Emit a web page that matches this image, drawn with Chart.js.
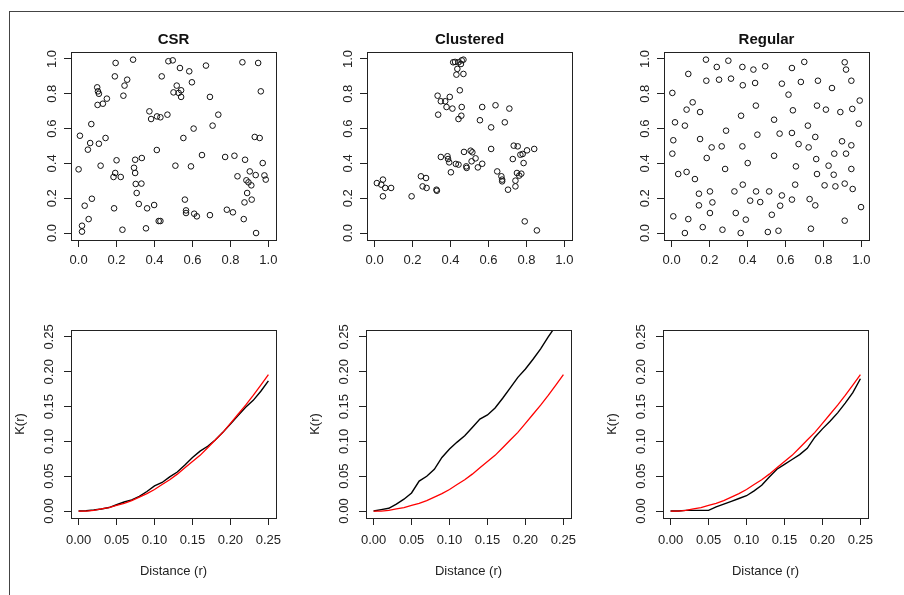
<!DOCTYPE html>
<html>
<head>
<meta charset="utf-8">
<script src="https://cdn.jsdelivr.net/npm/chart.js@4"></script>
<style>
  body { margin: 0; background: #fff; width: 904px; height: 595px; position: relative; overflow: hidden; }
  #outer { position: absolute; left: 9px; top: 11px; width: 900px; height: 590px; border-top: 1px solid #444; border-left: 1px solid #444; }
  canvas { position: absolute; }
</style>
</head>
<body>
<div id="outer"></div>
<canvas id="csr"></canvas>
<canvas id="clus"></canvas>
<canvas id="reg"></canvas>
<canvas id="kcsr"></canvas>
<canvas id="kclus"></canvas>
<canvas id="kreg"></canvas>
<script>
// point patterns (unit square)
const csrX = [0.195,0.287,0.191,0.256,0.242,0.236,0.098,0.102,0.107,0.149,0.128,0.100,0.067,0.007,0.061,0.049,0.107,0.142,0.000,0.116,
  0.200,0.193,0.184,0.222,0.187,0.070,0.032,0.053,0.018,0.018,0.231,0.298,0.333,0.292,0.298,0.301,0.331,0.306,0.317,0.361,
  0.398,0.355,0.422,0.431,0.412,0.373,0.382,0.413,0.431,0.468,0.438,0.473,0.496,0.534,0.517,0.540,0.500,0.527,0.540,0.510,
  0.552,0.583,0.597,0.671,0.692,0.606,0.592,0.650,0.706,0.736,0.560,0.566,0.566,0.609,0.623,0.692,0.772,0.821,0.781,0.813,
  0.870,0.863,0.946,0.960,0.928,0.954,0.877,0.970,0.902,0.933,0.979,0.986,0.837,0.884,0.895,0.910,0.888,0.912,0.874,0.935];
const csrY = [0.977,0.996,0.900,0.881,0.847,0.789,0.837,0.814,0.800,0.772,0.743,0.736,0.626,0.559,0.517,0.479,0.513,0.546,0.366,0.387,
  0.418,0.345,0.322,0.322,0.142,0.197,0.157,0.080,0.042,0.008,0.019,0.421,0.431,0.375,0.345,0.282,0.284,0.230,0.167,0.142,
  0.161,0.027,0.069,0.069,0.477,0.699,0.655,0.670,0.665,0.680,0.900,0.987,0.992,0.948,0.847,0.820,0.808,0.805,0.782,0.387,
  0.546,0.929,0.866,0.962,0.782,0.600,0.383,0.448,0.617,0.680,0.192,0.130,0.115,0.111,0.096,0.103,0.437,0.444,0.134,0.119,
  0.080,0.981,0.977,0.814,0.552,0.546,0.421,0.402,0.354,0.333,0.331,0.307,0.326,0.303,0.291,0.274,0.230,0.192,0.176,0.000];

const clusX = [0.414,0.424,0.442,0.459,0.468,0.455,0.436,0.431,0.468,0.449,0.332,0.349,0.372,0.396,0.379,0.410,0.335,0.459,0.457,0.442,
  0.567,0.637,0.710,0.555,0.614,0.686,0.349,0.384,0.387,0.393,0.402,0.428,0.442,0.471,0.483,0.485,0.506,0.515,0.511,0.532,
  0.544,0.567,0.614,0.646,0.668,0.672,0.672,0.703,0.728,0.733,0.754,0.768,0.780,0.803,0.841,0.785,0.742,0.742,0.750,0.762,
  0.773,0.791,0.855,0.012,0.044,0.035,0.056,0.087,0.044,0.195,0.244,0.271,0.253,0.274,0.326,0.328];
const clusY = [0.981,0.983,0.981,0.992,0.996,0.971,0.943,0.910,0.914,0.820,0.789,0.757,0.757,0.782,0.724,0.715,0.680,0.724,0.674,0.655,
  0.724,0.734,0.715,0.648,0.607,0.636,0.437,0.441,0.425,0.406,0.349,0.397,0.393,0.466,0.383,0.374,0.473,0.464,0.412,0.429,
  0.377,0.398,0.483,0.354,0.326,0.307,0.297,0.249,0.425,0.502,0.498,0.450,0.454,0.475,0.483,0.402,0.301,0.268,0.345,0.330,
  0.341,0.067,0.015,0.287,0.307,0.278,0.259,0.259,0.211,0.211,0.326,0.316,0.268,0.259,0.249,0.243];

const regX = [0.181,0.238,0.299,0.313,0.250,0.183,0.373,0.431,0.493,0.375,0.440,0.444,0.088,0.004,0.079,0.111,0.150,0.018,0.070,0.009,
  0.004,0.150,0.211,0.264,0.287,0.366,0.373,0.452,0.185,0.282,0.401,0.035,0.079,0.123,0.144,0.144,0.202,0.215,0.202,0.164,
  0.070,0.009,0.088,0.268,0.331,0.375,0.338,0.391,0.364,0.414,0.445,0.467,0.514,0.528,0.507,0.563,0.540,0.540,0.569,0.581,
  0.616,0.634,0.639,0.634,0.669,0.655,0.651,0.581,0.572,0.634,0.681,0.699,0.718,0.722,0.757,0.766,0.771,0.762,0.766,0.727,
  0.757,0.734,0.813,0.845,0.912,0.919,0.947,0.889,0.952,0.991,0.986,0.898,0.857,0.919,0.947,0.827,0.854,0.947,0.806,0.863,
  0.912,0.954,0.998,0.912];
const regY = [0.996,0.954,0.990,0.887,0.881,0.875,0.954,0.939,0.958,0.849,0.862,0.732,0.914,0.805,0.709,0.751,0.695,0.636,0.617,0.533,
  0.456,0.540,0.492,0.498,0.588,0.674,0.498,0.565,0.431,0.368,0.402,0.339,0.351,0.310,0.226,0.159,0.239,0.176,0.115,0.034,
  0.000,0.096,0.080,0.019,0.239,0.278,0.115,0.077,0.000,0.186,0.239,0.178,0.239,0.105,0.006,0.013,0.651,0.444,0.571,0.858,
  0.795,0.948,0.705,0.575,0.511,0.383,0.278,0.216,0.157,0.192,0.868,0.983,0.617,0.492,0.552,0.732,0.875,0.425,0.339,0.195,
  0.159,0.025,0.709,0.833,0.981,0.939,0.875,0.695,0.713,0.761,0.628,0.527,0.456,0.456,0.504,0.387,0.335,0.368,0.274,0.268,
  0.284,0.253,0.149,0.071];

// Ripley's K: distance r, theoretical (red) and observed (black)
const kR = [0,0.01,0.02,0.03,0.04,0.05,0.06,0.07,0.08,0.09,0.10,0.11,0.12,0.13,0.14,0.15,0.16,0.17,0.18,0.19,0.20,0.21,0.22,0.23,0.24,0.25];
const kTheo = [0,0.000,0.001,0.003,0.005,0.008,0.011,0.015,0.020,0.025,0.031,0.038,0.045,0.053,0.062,0.071,0.080,0.091,0.102,0.113,0.126,0.139,0.152,0.166,0.181,0.196];
const kCsr = [0,0.0005,0.0015,0.003,0.005,0.009,0.013,0.016,0.021,0.028,0.036,0.041,0.049,0.056,0.066,0.077,0.086,0.093,0.102,0.113,0.125,0.137,0.149,0.159,0.172,0.187];
const kClus = [0,0.002,0.004,0.010,0.017,0.026,0.043,0.050,0.060,0.077,0.089,0.099,0.108,0.120,0.132,0.138,0.148,0.162,0.177,0.192,0.204,0.218,0.233,0.250,0.266,0.280];
const kReg = [0,0,0.001,0.001,0.001,0.001,0.006,0.010,0.014,0.018,0.022,0.029,0.037,0.049,0.060,0.067,0.074,0.081,0.090,0.106,0.118,0.129,0.141,0.155,0.170,0.190];

const unitTicks = [0, 0.2, 0.4, 0.6, 0.8, 1.0];
const kTicks = [0, 0.05, 0.10, 0.15, 0.20, 0.25];

Chart.defaults.font.family = '"Liberation Sans", Arial, sans-serif';
Chart.defaults.color = '#222';

// R-style box round the plot region
const boxFrame = {
  id: 'boxFrame',
  afterDraw(chart) {
    const a = chart.chartArea, ctx = chart.ctx;
    ctx.save();
    ctx.strokeStyle = '#222';
    ctx.lineWidth = 1;
    ctx.strokeRect(Math.round(a.left) + 0.5, Math.round(a.top) + 0.5, Math.round(a.right - a.left), Math.round(a.bottom - a.top));
    ctx.restore();
  }
};

function place(id, left, top, w, h) {
  const c = document.getElementById(id);
  c.width = w; c.height = h;
  c.style.left = left + 'px';
  c.style.top = top + 'px';
  return c;
}

function axis(min, max, ticks, digits, size, vertical, pad, title) {
  const ax = {
    type: 'linear', min, max,
    afterBuildTicks: s => { s.ticks = ticks.map(v => ({ value: v })); },
    afterFit: s => { if (vertical) s.width = size; else s.height = size; },
    grid: { drawOnChartArea: false, drawTicks: true, tickLength: 7, color: '#222', lineWidth: 1 },
    border: { display: false },
    ticks: { color: '#222', font: { size: 13 }, padding: pad, callback: v => v.toFixed(digits) }
  };
  if (vertical) Object.assign(ax.ticks, { minRotation: 90, maxRotation: 90, crossAlign: 'center' });
  if (title) ax.title = { display: true, text: title, color: '#222', font: { size: 13 }, padding: { top: 0, bottom: 1 } };
  return ax;
}

function scatterPanel(id, left, title, xs, ys) {
  const canvas = place(id, left - 40, 25, 265, 255);
  new Chart(canvas, {
    type: 'scatter',
    data: { datasets: [{
      data: xs.map((x, i) => ({ x, y: ys[i] })),
      pointRadius: 2.8, borderColor: '#111', backgroundColor: 'rgba(0,0,0,0)', borderWidth: 1
    }] },
    options: {
      responsive: false, animation: false, events: [],
      layout: { padding: { top: 0, right: 20, bottom: 0, left: 0 } },
      plugins: {
        legend: { display: false },
        tooltip: { enabled: false },
        title: { display: true, text: title, fullSize: false, color: '#111', font: { size: 15, weight: 'bold' }, padding: { top: 6, bottom: 3 } }
      },
      scales: {
        x: axis(-0.04, 1.04, unitTicks, 1, 40, false, 6),
        y: axis(-0.04, 1.04, unitTicks, 1, 40, true, 3)
      }
    },
    plugins: [boxFrame]
  });
}

function kPanel(id, left, obs) {
  const canvas = place(id, left - 58, 320, 283, 260);
  new Chart(canvas, {
    type: 'line',
    data: { datasets: [
      { data: kR.map((r, i) => ({ x: r, y: kTheo[i] })), borderColor: '#ff0000', borderWidth: 1.3, pointRadius: 0, tension: 0 },
      { data: kR.map((r, i) => ({ x: r, y: obs[i] })), borderColor: '#000', borderWidth: 1.4, pointRadius: 0, tension: 0 }
    ] },
    options: {
      responsive: false, animation: false, events: [],
      layout: { padding: { top: 10, right: 20, bottom: 0, left: 0 } },
      plugins: { legend: { display: false }, tooltip: { enabled: false } },
      scales: {
        x: axis(-0.01, 0.26, kTicks, 2, 62, false, 8, 'Distance (r)'),
        y: axis(-0.01, 0.26, kTicks, 2, 58, true, 2, 'K(r)')
      }
    },
    plugins: [boxFrame]
  });
}

scatterPanel('csr', 71, 'CSR', csrX, csrY);
scatterPanel('clus', 367, 'Clustered', clusX, clusY);
scatterPanel('reg', 664, 'Regular', regX, regY);
kPanel('kcsr', 71, kCsr);
kPanel('kclus', 366, kClus);
kPanel('kreg', 663, kReg);
</script>
</body>
</html>
